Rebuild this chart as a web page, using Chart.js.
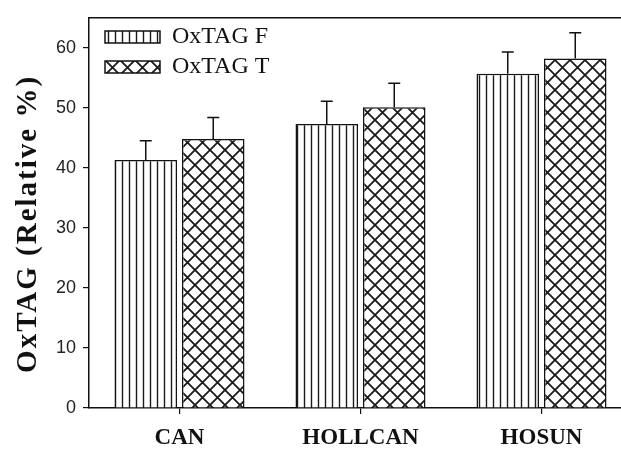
<!DOCTYPE html>
<html>
<head>
<meta charset="utf-8">
<script src="https://cdn.jsdelivr.net/npm/chart.js@4/dist/chart.umd.min.js"></script>
<style>
  html, body { margin: 0; padding: 0; background: #fff; overflow: hidden; }
  #wrap { width: 621px; height: 450px; overflow: hidden; }
</style>
</head>
<body>
<div id="wrap"><canvas id="c" width="640" height="450"></canvas></div>
<script>
// Oxidised triacylglycerols by oil type
const categories = ['CAN', 'HOLLCAN', 'HOSUN'];
const oxtagF = [41.3, 47.3, 55.7];
const oxtagT = [44.8, 50.1, 58.2];
const errF = [3.2, 3.8, 3.6];
const errT = [3.6, 4.0, 4.3];
const yTicks = [0, 10, 20, 30, 40, 50, 60];

// Fill patterns: vertical stripes and diagonal cross-hatch
function stripePattern() {
  const t = document.createElement('canvas');
  t.width = 7; t.height = 7;
  const g = t.getContext('2d');
  g.fillStyle = '#fff'; g.fillRect(0, 0, 7, 7);
  g.strokeStyle = '#1a1a1a'; g.lineWidth = 1.4;
  g.beginPath(); g.moveTo(3.5, 0); g.lineTo(3.5, 7); g.stroke();
  return g.createPattern(t, 'repeat');
}
function hatchPattern() {
  const p = 15;
  const t = document.createElement('canvas');
  t.width = p; t.height = p;
  const g = t.getContext('2d');
  g.fillStyle = '#fff'; g.fillRect(0, 0, p, p);
  g.strokeStyle = '#1a1a1a'; g.lineWidth = 1.8;
  g.beginPath();
  g.moveTo(-1, -1); g.lineTo(p + 1, p + 1);
  g.moveTo(p + 1, -1); g.lineTo(-1, p + 1);
  g.stroke();
  return g.createPattern(t, 'repeat');
}

const errorBars = {
  id: 'errorBars',
  afterLayout(chart) {
    // legend sits inside the plot, a little in from the corner
    const lg = chart.legend;
    lg.left += 10; lg.right += 10;
    lg.top += 19; lg.bottom += 19;
    // slightly spaced, slightly lowered axis title
    const ys = chart.scales.y;
    if (!ys._spaced) {
      const orig = ys.drawTitle;
      ys.drawTitle = function () {
        const ctx = this.ctx;
        ctx.save();
        ctx.translate(0, 11);
        ctx.letterSpacing = '2px';
        orig.apply(this, arguments);
        ctx.restore();
      };
      ys._spaced = true;
    }
  },
  afterDatasetsDraw(chart) {
    const ctx = chart.ctx;
    const y = chart.scales.y;
    const errs = [errF, errT];
    ctx.save();
    ctx.strokeStyle = '#111';
    ctx.lineWidth = 1.5;
    chart.data.datasets.forEach((ds, i) => {
      chart.getDatasetMeta(i).data.forEach((bar, j) => {
        const top = y.getPixelForValue(ds.data[j] + errs[i][j]);
        ctx.beginPath();
        ctx.moveTo(bar.x, bar.y);
        ctx.lineTo(bar.x, top);
        ctx.moveTo(bar.x - 6, top);
        ctx.lineTo(bar.x + 6, top);
        ctx.stroke();
      });
    });
    // top edge of the frame
    const a = chart.chartArea;
    ctx.beginPath();
    ctx.moveTo(a.left, a.top);
    ctx.lineTo(a.right, a.top);
    ctx.stroke();
    ctx.restore();
  }
};

new Chart(document.getElementById('c'), {
  type: 'bar',
  data: {
    labels: categories,
    datasets: [
      { label: 'OxTAG F', data: oxtagF, backgroundColor: stripePattern(),
        borderColor: '#111', borderWidth: 1.5,
        categoryPercentage: 0.746, barPercentage: 0.926 },
      { label: 'OxTAG T', data: oxtagT, backgroundColor: hatchPattern(),
        borderColor: '#111', borderWidth: 1.5,
        categoryPercentage: 0.746, barPercentage: 0.926 }
    ]
  },
  options: {
    responsive: false,
    devicePixelRatio: 1,
    animation: false,
    layout: { padding: { left: 0, top: 12, right: 8, bottom: 0 } },
    plugins: {
      tooltip: { enabled: false },
      legend: {
        position: 'chartArea',
        align: 'start',
        labels: {
          boxWidth: 55, boxHeight: 12, padding: 6,
          color: '#111',
          font: { family: 'Liberation Serif', size: 24 }
        }
      }
    },
    scales: {
      x: {
        grid: { offset: false, drawOnChartArea: false, tickLength: 6, color: '#111', lineWidth: 1.2 },
        border: { color: '#111', width: 1.5 },
        ticks: { color: '#111', padding: 10, font: { family: 'Liberation Serif', size: 23, weight: 'bold' } },
        afterFit(s) { s.height = 42; }
      },
      y: {
        min: 0, max: 65,
        afterBuildTicks(s) { s.ticks = yTicks.map(v => ({ value: v })); },
        grid: { drawOnChartArea: false, tickLength: 6, color: '#111', lineWidth: 1.2 },
        border: { color: '#111', width: 1.5 },
        ticks: { color: '#222', padding: 7, font: { family: 'Liberation Sans', size: 18 } },
        title: {
          display: true, text: 'OxTAG (Relative %)', color: '#111',
          padding: { top: 11, bottom: 0 },
          font: { family: 'Liberation Serif', size: 29, weight: 'bold' }
        },
        afterFit(s) { s.width = 89; }
      }
    }
  },
  plugins: [errorBars]
});
</script>
</body>
</html>
